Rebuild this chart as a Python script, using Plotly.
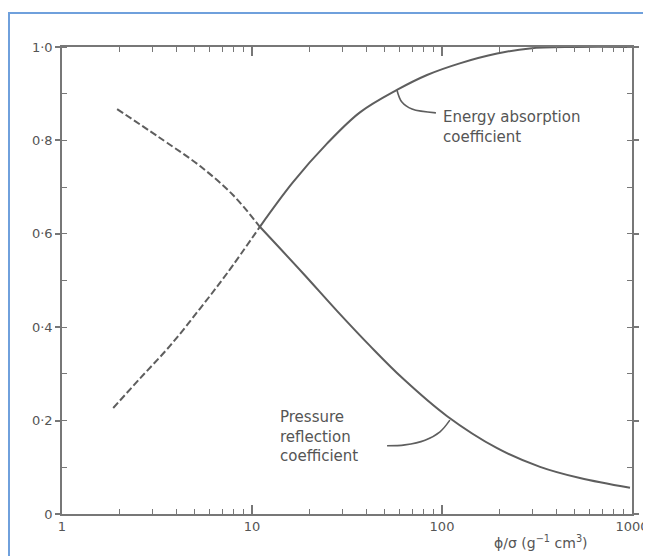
import plotly.graph_objects as go

# ---- data ----
energy_x_dashed = [1.86, 2.57, 3.70, 5.33, 7.38, 11.0]
energy_y_dashed = [0.227, 0.290, 0.360, 0.440, 0.515, 0.615]
energy_x_solid = [11.0, 16.4, 24.8, 37.0, 57.9, 83.4, 124, 195, 290, 500, 1000]
energy_y_solid = [0.615, 0.710, 0.793, 0.860, 0.908, 0.940, 0.965, 0.986, 0.997, 1.0, 1.0]

pressure_x_dashed = [1.95, 2.90, 3.57, 5.33, 7.94, 11.0]
pressure_y_dashed = [0.867, 0.820, 0.795, 0.745, 0.683, 0.615]
pressure_x_solid = [11.0, 18.6, 28.0, 41.8, 62.3, 106, 195, 328, 532, 976]
pressure_y_solid = [0.615, 0.515, 0.435, 0.360, 0.290, 0.210, 0.141, 0.101, 0.077, 0.056]

energy_leader_x = [57.9, 61.5, 69.5, 92.9]
energy_leader_y = [0.908, 0.882, 0.867, 0.859]
pressure_leader_x = [110, 97.6, 81.4, 63.8, 51.4]
pressure_leader_y = [0.201, 0.176, 0.158, 0.148, 0.146]

x_tickvals = [1, 10, 100, 1000]
x_ticktext = ["1", "10", "100", "1000"]
x_minor_tickvals = [2, 3, 4, 5, 6, 7, 8, 9, 20, 30, 40, 50, 60, 70, 80, 90,
                    200, 300, 400, 500, 600, 700, 800, 900]
y_tickvals = [0, 0.2, 0.4, 0.6, 0.8, 1.0]
y_ticktext = ["0", "0·2", "0·4", "0·6", "0·8", "1·0"]

line_col = "#5e5e5e"
text_col = "#555555"

fig = go.Figure()

def add_line(x, y, dash):
    fig.add_trace(go.Scatter(x=x, y=y, mode="lines",
                             line=dict(color=line_col, width=2, dash=dash, shape="spline", smoothing=1.0),
                             showlegend=False, hoverinfo="skip"))

add_line(energy_x_dashed, energy_y_dashed, "7px,3px")
add_line(energy_x_solid, energy_y_solid, "solid")
add_line(pressure_x_dashed, pressure_y_dashed, "7px,3px")
add_line(pressure_x_solid, pressure_y_solid, "solid")

for lx, ly in [(energy_leader_x, energy_leader_y), (pressure_leader_x, pressure_leader_y)]:
    fig.add_trace(go.Scatter(x=lx, y=ly, mode="lines",
                             line=dict(color=line_col, width=1.6, shape="spline"),
                             showlegend=False, hoverinfo="skip"))

font_lbl = dict(family="DejaVu Sans", size=15, color=text_col)

fig.add_annotation(x=1.995, y=0.829, xref="x", yref="y", text="Energy absorption<br>coefficient",
                   showarrow=False, xanchor="left", yanchor="middle", align="left", font=font_lbl)
fig.add_annotation(x=1.137, y=0.165, xref="x", yref="y", text="Pressure<br>reflection<br>coefficient",
                   showarrow=False, xanchor="left", yanchor="middle", align="left", font=font_lbl)
fig.add_annotation(x=0.84, y=-0.036, xref="paper", yref="paper",
                   text="ϕ/σ (g<sup>−1</sup> cm<sup>3</sup>)",
                   showarrow=False, xanchor="center", yanchor="top",
                   font=dict(family="DejaVu Sans", size=14, color=text_col))

# blue frame around the scanned figure
fig.add_shape(type="rect", xref="paper", yref="paper", x0=-0.093, x1=1.2, y0=-0.2, y1=1.073,
              line=dict(color="#6fa0dc", width=2), fillcolor="rgba(0,0,0,0)", layer="below")

axis_common = dict(showgrid=False, zeroline=False, showline=True, linecolor="#777777", linewidth=1.5,
                   mirror="ticks", tickcolor="#777777", automargin=False,
                   tickfont=dict(family="DejaVu Sans", size=13, color=text_col))

fig.update_xaxes(type="log", range=[0, 3], tickvals=x_tickvals, ticktext=x_ticktext,
                 ticks="inside", ticklen=9, tickwidth=1.5,
                 minor=dict(ticks="inside", ticklen=5, tickvals=x_minor_tickvals,
                            tickcolor="#777777", tickwidth=1.2, showgrid=False),
                 **axis_common)
fig.update_yaxes(range=[0, 1], tickvals=y_tickvals, ticktext=y_ticktext,
                 ticks="outside", ticklen=5, tickwidth=1.5,
                 minor=dict(ticks="inside", ticklen=5, dtick=0.1, tickcolor="#777777", tickwidth=1.2, showgrid=False),
                 **axis_common)

# the page body adds an 8px offset, so the figure is sized to fit the 651x556 window
fig.update_layout(width=643, height=548, margin=dict(l=54, r=19, t=39, b=42, autoexpand=False),
                  paper_bgcolor="white", plot_bgcolor="white", showlegend=False)

fig.write_html("out.html")
